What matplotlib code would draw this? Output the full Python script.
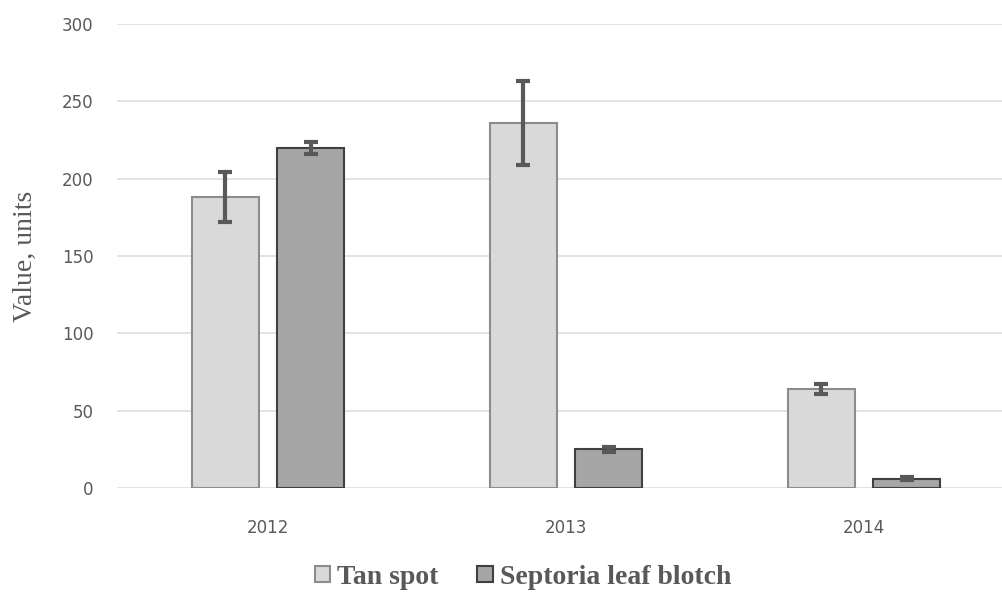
import numpy as np
import matplotlib.pyplot as plt

years = ['2012', '2013', '2014']
tan_spot = [188, 236, 64]
tan_spot_err = [16, 27, 3]
septoria = [220, 25, 6]
septoria_err = [4, 1.5, 1]

fig = plt.figure(figsize=(10.02, 5.97), dpi=100)
ax = fig.add_axes([0.1168, 0.1826, 0.8832, 0.7772])

x = np.arange(len(years))
w = 0.225
err_kw = dict(ecolor='#595959', elinewidth=3, capsize=5, capthick=3)

ax.bar(x - 0.144, tan_spot, w, color='#d9d9d9', edgecolor='#8c8c8c',
       linewidth=1.5, yerr=tan_spot_err, error_kw=err_kw, label='Tan spot', zorder=3)
ax.bar(x + 0.143, septoria, w, color='#a6a6a6', edgecolor='#404040',
       linewidth=1.5, yerr=septoria_err, error_kw=err_kw,
       label='Septoria leaf blotch', zorder=3)

ax.set_xlim(-0.507, 2.463)
ax.set_ylim(0, 300)
ax.set_yticks(range(0, 301, 50))
ax.set_xticks(x)
ax.set_xticklabels(years)
ax.tick_params(length=0, labelsize=12, labelcolor='#595959')
ax.tick_params(axis='x', pad=22)
ax.tick_params(axis='y', pad=17)
ax.grid(axis='y', color='#e0e0e0', linewidth=1.3, zorder=0)
for s in ax.spines.values():
    s.set_visible(False)

fig.text(0.025, 0.571, 'Value, units', rotation=90, ha='center', va='center',
         family='Liberation Serif', fontsize=20, color='#595959')

leg = fig.legend(loc='lower center', bbox_to_anchor=(0.522, -0.03), ncol=2,
                 frameon=False, handlelength=0.55, handleheight=0.55,
                 handletextpad=0.25, columnspacing=1.4,
                 prop={'family': 'Liberation Serif', 'weight': 'bold', 'size': 20})
for t in leg.get_texts():
    t.set_color('#595959')

fig.savefig('out.png', dpi=100)
